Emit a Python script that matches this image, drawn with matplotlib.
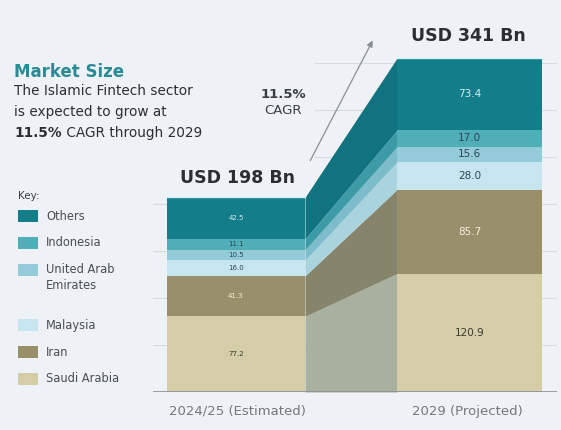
import numpy as np
import matplotlib
matplotlib.use("Agg")
import matplotlib.pyplot as plt
from matplotlib.patches import Rectangle, FancyArrowPatch

plt.rcParams['font.family'] = ['DejaVu Sans']

# data (USD Bn), bottom to top
segments = ["Saudi Arabia", "Iran", "Malaysia", "United Arab\nEmirates", "Indonesia", "Others"]
vals_2024 = [77.2, 41.3, 16.0, 10.5, 11.1, 42.5]
vals_2029 = [120.9, 85.7, 28.0, 15.6, 17.0, 73.4]
periods = ["2024/25 (Estimated)", "2029 (Projected)"]
totals = ["USD 198 Bn", "USD 341 Bn"]

colors = ["#d5cca8", "#9a8f6b", "#c6e5ee", "#93cbd8", "#4faeb7", "#137d89"]
side_colors = ["#a8b19f", "#86846a", "#a9d3dd", "#7dbdcb", "#3c9ba6", "#11737f"]
label_colors = ["#3a3a30", "#f4f0e0", "#2d4656", "#2d4656", "#2d4656", "#d8eef0"]

W, H = 561, 430
bg = "#eef2f6"

fig = plt.figure(figsize=(W / 100, H / 100), dpi=100, facecolor=bg)


def fx(px):
    return px / W


def fy(py):
    return 1 - py / H


ax = fig.add_axes([fx(153), fy(392), fx(557) - fx(153), fy(0) - fy(392)])
ax.set_facecolor(bg)
ax.set_xlim(0, 404)
ax.set_ylim(0, 400)

# bar geometry (x in axis units)
bar_l = (14, 152)
bar_r = (244, 389)

cum24 = np.concatenate([[0], np.cumsum(vals_2024)])
cum29 = np.concatenate([[0], np.cumsum(vals_2029)])

# faint gridlines, hidden behind the text block on the upper left
for y in np.arange(48, 370, 48):
    xmin = 0 if y < cum24[-1] else 0.4
    ax.axhline(y, xmin=xmin, color="#d6dbe0", lw=0.8, zorder=0)

for i in range(len(segments)):
    # connector (side face)
    ax.fill_between([bar_l[1], bar_r[0]], [cum24[i], cum29[i]], [cum24[i + 1], cum29[i + 1]],
                    color=side_colors[i], lw=0, zorder=2)
    ax.bar((bar_l[0] + bar_l[1]) / 2, vals_2024[i], width=bar_l[1] - bar_l[0], bottom=cum24[i],
           color=colors[i], lw=0, zorder=3)
    ax.bar((bar_r[0] + bar_r[1]) / 2, vals_2029[i], width=bar_r[1] - bar_r[0], bottom=cum29[i],
           color=colors[i], lw=0, zorder=3)
    ax.text((bar_l[0] + bar_l[1]) / 2, cum24[i] + vals_2024[i] / 2, f"{vals_2024[i]:.1f}",
            ha="center", va="center", fontsize=5, color=label_colors[i], zorder=4)
    ax.text((bar_r[0] + bar_r[1]) / 2, cum29[i] + vals_2029[i] / 2, f"{vals_2029[i]:.1f}",
            ha="center", va="center", fontsize=7.5, color=label_colors[i], zorder=4)

# light top edge on both bars
ax.plot(bar_l, [cum24[-1]] * 2, color="#d4f0f4", lw=1, zorder=4)
ax.plot(bar_r, [cum29[-1]] * 2, color="#d4f0f4", lw=1, zorder=4)

# totals above each bar
ax.annotate(totals[0], ((bar_l[0] + bar_l[1]) / 2 + 1, cum24[-1]), xytext=(0, 14),
            textcoords="offset points", ha="center", va="center", fontsize=12.5,
            fontweight="bold", color="#2b2f33", zorder=6)
ax.annotate(totals[1], ((bar_r[0] + bar_r[1]) / 2 - 1, cum29[-1]), xytext=(0, 16),
            textcoords="offset points", ha="center", va="center", fontsize=12.5,
            fontweight="bold", color="#2b2f33", zorder=6)

ax.axhline(0, color="#8a8f96", lw=1.2, zorder=5)
for s in ax.spines.values():
    s.set_visible(False)
ax.set_xticks([])
ax.set_yticks([])

# x labels
fig.text(fx(237), fy(411), periods[0], ha="center", va="center", fontsize=9.5, color="#74787e")
fig.text(fx(467), fy(411), periods[1], ha="center", va="center", fontsize=9.5, color="#74787e")

# CAGR arrow
arr = FancyArrowPatch((fx(309), fy(163)), (fx(374), fy(38)), transform=fig.transFigure,
                      arrowstyle="-|>", mutation_scale=9, color="#8a8f96", lw=0.9)
fig.patches.append(arr)
fig.text(fx(283), fy(95), "11.5%", ha="center", va="center", fontsize=9.5,
         fontweight="bold", color="#3a3f44")
fig.text(fx(283), fy(111), "CAGR", ha="center", va="center", fontsize=9.5,
         color="#3a3f44")

# heading
fig.text(fx(14), fy(72), "Market Size", ha="left", va="center", fontsize=12,
         fontweight="bold", color="#2a8a96")
fig.text(fx(14), fy(91), "The Islamic Fintech sector", ha="left", va="center",
         fontsize=9.8, color="#2b2f33")
fig.text(fx(14), fy(112), "is expected to grow at", ha="left", va="center",
         fontsize=9.8, color="#2b2f33")
t = fig.text(fx(14), fy(133), "11.5%", ha="left", va="center", fontsize=9.8,
             fontweight="bold", color="#2b2f33")
r = fig.canvas.get_renderer()
bb = t.get_window_extent(renderer=r)
fig.text(bb.x1 / fig.bbox.width, fy(133), " CAGR through 2029", ha="left", va="center",
         fontsize=9.8, color="#2b2f33")

# key
fig.text(fx(18), fy(196), "Key:", ha="left", va="center", fontsize=7.5, color="#3a3f44")
key_y = [379, 352, 325, 270, 243, 216]
for i in range(len(segments)):
    fig.patches.append(Rectangle((fx(18), fy(key_y[i] + 6)), fx(20), 12 / H,
                                 transform=fig.transFigure, color=colors[i], lw=0))
    fig.text(fx(46), fy(key_y[i] - 7) if "\n" in segments[i] else fy(key_y[i]), segments[i],
             ha="left", va="top" if "\n" in segments[i] else "center",
             fontsize=8.3, color="#4a4f55", linespacing=1.3)

fig.savefig("out.png", dpi=100, facecolor=bg)
